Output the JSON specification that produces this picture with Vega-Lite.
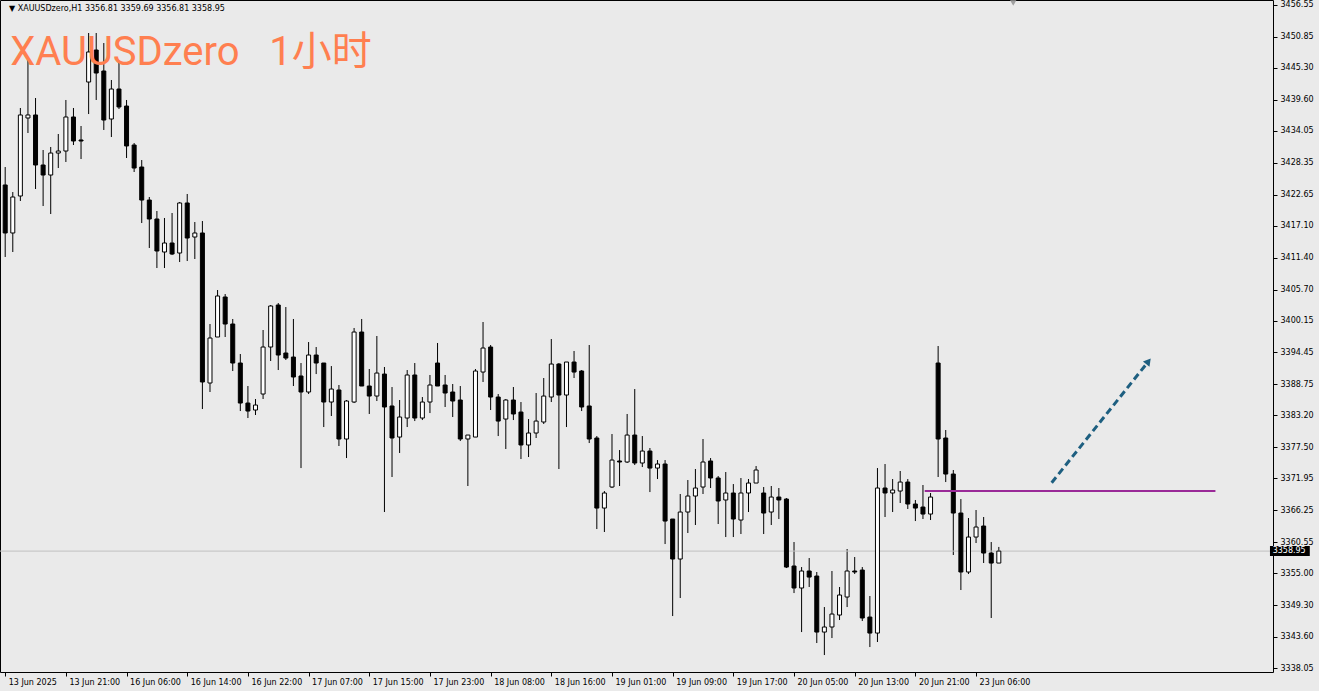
{
 "$schema": "https://vega.github.io/schema/vega-lite/v6.json",
 "width": 1273,
 "height": 672,
 "autosize": {"type": "none"},
 "padding": {"left": 0, "top": 0, "right": 46, "bottom": 19},
 "background": "#eaeaea",
 "config": {
  "view": {"stroke": "#000000", "strokeWidth": 1},
  "axis": {"grid": false, "title": null, "domain": false, "labelOverlap": false, "labelBound": false, "labelFlush": false,
    "labelFont": "DejaVu Sans", "labelFontSize": 8, "labelColor": "#000000", "tickColor": "#000000", "tickSize": 4},
  "axisX": {"labelAlign": "left", "labelBaseline": "top", "labelOffset": 3, "labelPadding": 2, "tickCount": 40},
  "axisY": {"labelAlign": "left", "labelBaseline": "middle", "labelPadding": 3, "tickCount": 40}
 },
 "datasets": {
  "candles": [
   {"i":0,"o":3424.38,"h":3427.59,"l":3411.51,"c":3415.80},
   {"i":1,"o":3415.80,"h":3423.12,"l":3412.40,"c":3422.23},
   {"i":2,"o":3422.41,"h":3438.14,"l":3421.52,"c":3436.89},
   {"i":3,"o":3436.35,"h":3446.72,"l":3433.67,"c":3436.89},
   {"i":4,"o":3436.89,"h":3439.92,"l":3423.66,"c":3427.95},
   {"i":5,"o":3427.95,"h":3430.63,"l":3420.62,"c":3426.16},
   {"i":6,"o":3426.16,"h":3431.17,"l":3419.19,"c":3430.09},
   {"i":7,"o":3430.09,"h":3433.49,"l":3427.41,"c":3430.45},
   {"i":8,"o":3430.45,"h":3439.57,"l":3428.49,"c":3436.53},
   {"i":9,"o":3436.53,"h":3438.14,"l":3431.52,"c":3432.24},
   {"i":10,"o":3432.42,"h":3434.92,"l":3429.02,"c":3432.24},
   {"i":11,"o":3442.78,"h":3451.54,"l":3437.06,"c":3448.15},
   {"i":12,"o":3448.50,"h":3451.54,"l":3439.57,"c":3444.39},
   {"i":13,"o":3444.75,"h":3449.75,"l":3434.21,"c":3435.99},
   {"i":14,"o":3436.17,"h":3443.14,"l":3432.95,"c":3441.53},
   {"i":15,"o":3441.53,"h":3446.36,"l":3437.96,"c":3438.32},
   {"i":16,"o":3438.49,"h":3439.57,"l":3429.20,"c":3431.35},
   {"i":17,"o":3431.52,"h":3431.88,"l":3426.70,"c":3427.41},
   {"i":18,"o":3427.59,"h":3428.84,"l":3417.58,"c":3421.69},
   {"i":19,"o":3421.69,"h":3422.23,"l":3413.12,"c":3418.30},
   {"i":20,"o":3418.30,"h":3419.73,"l":3409.54,"c":3412.58},
   {"i":21,"o":3412.40,"h":3418.48,"l":3409.54,"c":3414.01},
   {"i":22,"o":3414.01,"h":3419.37,"l":3411.86,"c":3412.04},
   {"i":23,"o":3412.22,"h":3421.34,"l":3410.61,"c":3421.16},
   {"i":24,"o":3421.16,"h":3422.77,"l":3410.79,"c":3414.90},
   {"i":25,"o":3415.08,"h":3417.76,"l":3411.15,"c":3415.80},
   {"i":26,"o":3415.80,"h":3417.94,"l":3384.34,"c":3389.17},
   {"i":27,"o":3388.99,"h":3399.53,"l":3387.38,"c":3397.03},
   {"i":28,"o":3397.21,"h":3405.61,"l":3397.21,"c":3404.54},
   {"i":29,"o":3404.36,"h":3404.89,"l":3397.21,"c":3399.53},
   {"i":30,"o":3399.53,"h":3400.43,"l":3391.13,"c":3392.56},
   {"i":31,"o":3392.56,"h":3394.17,"l":3383.98,"c":3385.41},
   {"i":32,"o":3385.41,"h":3388.45,"l":3382.73,"c":3383.98},
   {"i":33,"o":3384.16,"h":3386.13,"l":3383.27,"c":3385.05},
   {"i":34,"o":3387.02,"h":3398.46,"l":3386.13,"c":3395.42},
   {"i":35,"o":3395.42,"h":3402.93,"l":3392.92,"c":3402.75},
   {"i":36,"o":3402.93,"h":3403.28,"l":3391.31,"c":3393.99},
   {"i":37,"o":3394.35,"h":3402.57,"l":3393.10,"c":3393.45},
   {"i":38,"o":3393.63,"h":3400.43,"l":3388.45,"c":3390.06},
   {"i":39,"o":3390.24,"h":3392.56,"l":3373.79,"c":3387.38},
   {"i":40,"o":3387.38,"h":3396.31,"l":3387.02,"c":3393.99},
   {"i":41,"o":3393.99,"h":3395.42,"l":3390.59,"c":3392.56},
   {"i":42,"o":3392.56,"h":3392.56,"l":3381.12,"c":3385.59},
   {"i":43,"o":3385.59,"h":3392.02,"l":3383.09,"c":3387.91},
   {"i":44,"o":3387.74,"h":3388.63,"l":3377.73,"c":3378.98},
   {"i":45,"o":3378.98,"h":3385.95,"l":3375.58,"c":3385.77},
   {"i":46,"o":3385.59,"h":3398.82,"l":3385.41,"c":3398.10},
   {"i":47,"o":3398.10,"h":3400.43,"l":3388.45,"c":3388.45},
   {"i":48,"o":3388.45,"h":3391.49,"l":3383.45,"c":3386.66},
   {"i":49,"o":3386.66,"h":3397.39,"l":3385.77,"c":3390.77},
   {"i":50,"o":3390.59,"h":3391.85,"l":3365.93,"c":3384.70},
   {"i":51,"o":3384.88,"h":3388.27,"l":3372.19,"c":3379.16},
   {"i":52,"o":3379.33,"h":3385.95,"l":3376.48,"c":3382.91},
   {"i":53,"o":3382.73,"h":3391.31,"l":3381.12,"c":3390.42},
   {"i":54,"o":3390.42,"h":3392.56,"l":3382.19,"c":3382.73},
   {"i":55,"o":3382.73,"h":3386.48,"l":3382.37,"c":3385.59},
   {"i":56,"o":3385.59,"h":3390.42,"l":3383.62,"c":3388.63},
   {"i":57,"o":3392.56,"h":3396.14,"l":3388.45,"c":3388.45},
   {"i":58,"o":3388.63,"h":3390.42,"l":3384.70,"c":3387.20},
   {"i":59,"o":3387.38,"h":3388.81,"l":3382.91,"c":3385.77},
   {"i":60,"o":3385.95,"h":3388.45,"l":3378.62,"c":3378.98},
   {"i":61,"o":3378.98,"h":3379.69,"l":3370.58,"c":3379.69},
   {"i":62,"o":3379.33,"h":3391.49,"l":3379.33,"c":3391.13},
   {"i":63,"o":3390.95,"h":3399.89,"l":3389.17,"c":3395.24},
   {"i":64,"o":3395.42,"h":3395.78,"l":3384.16,"c":3386.48},
   {"i":65,"o":3386.48,"h":3387.02,"l":3379.51,"c":3382.19},
   {"i":66,"o":3382.55,"h":3386.13,"l":3377.19,"c":3385.95},
   {"i":67,"o":3385.95,"h":3388.27,"l":3382.37,"c":3383.45},
   {"i":68,"o":3383.80,"h":3385.59,"l":3375.40,"c":3377.91},
   {"i":69,"o":3377.91,"h":3382.55,"l":3375.76,"c":3380.05},
   {"i":70,"o":3380.05,"h":3387.20,"l":3379.16,"c":3382.19},
   {"i":71,"o":3382.02,"h":3389.88,"l":3381.66,"c":3386.66},
   {"i":72,"o":3386.48,"h":3396.85,"l":3385.59,"c":3392.38},
   {"i":73,"o":3392.38,"h":3392.56,"l":3373.62,"c":3386.84},
   {"i":74,"o":3386.84,"h":3392.74,"l":3381.12,"c":3392.74},
   {"i":75,"o":3392.74,"h":3394.71,"l":3389.88,"c":3390.95},
   {"i":76,"o":3391.13,"h":3391.31,"l":3383.98,"c":3384.70},
   {"i":77,"o":3384.88,"h":3395.78,"l":3378.26,"c":3378.98},
   {"i":78,"o":3379.16,"h":3379.51,"l":3362.89,"c":3366.64},
   {"i":79,"o":3366.64,"h":3369.68,"l":3362.36,"c":3369.33},
   {"i":80,"o":3370.40,"h":3379.87,"l":3370.22,"c":3375.22},
   {"i":81,"o":3375.05,"h":3377.01,"l":3370.58,"c":3374.87},
   {"i":82,"o":3374.87,"h":3383.45,"l":3374.69,"c":3379.69},
   {"i":83,"o":3379.69,"h":3387.91,"l":3374.33,"c":3374.69},
   {"i":84,"o":3374.69,"h":3379.51,"l":3373.97,"c":3376.83},
   {"i":85,"o":3376.83,"h":3377.37,"l":3369.50,"c":3373.79},
   {"i":86,"o":3373.79,"h":3375.22,"l":3371.83,"c":3374.51},
   {"i":87,"o":3374.51,"h":3375.22,"l":3360.21,"c":3364.32},
   {"i":88,"o":3364.68,"h":3364.68,"l":3347.34,"c":3357.53},
   {"i":89,"o":3357.53,"h":3369.15,"l":3350.56,"c":3365.93},
   {"i":90,"o":3365.93,"h":3371.65,"l":3362.18,"c":3368.79},
   {"i":91,"o":3368.79,"h":3373.62,"l":3363.61,"c":3370.22},
   {"i":92,"o":3370.40,"h":3378.98,"l":3369.15,"c":3374.87},
   {"i":93,"o":3375.05,"h":3375.58,"l":3370.22,"c":3372.01},
   {"i":94,"o":3372.01,"h":3372.36,"l":3363.79,"c":3367.90},
   {"i":95,"o":3368.08,"h":3373.08,"l":3361.46,"c":3369.33},
   {"i":96,"o":3369.33,"h":3370.93,"l":3361.46,"c":3364.68},
   {"i":97,"o":3364.50,"h":3372.01,"l":3362.00,"c":3369.33},
   {"i":98,"o":3369.33,"h":3371.83,"l":3365.93,"c":3371.11},
   {"i":99,"o":3371.11,"h":3374.15,"l":3371.11,"c":3373.44},
   {"i":100,"o":3369.33,"h":3370.40,"l":3362.00,"c":3365.75},
   {"i":101,"o":3365.93,"h":3370.58,"l":3363.61,"c":3368.61},
   {"i":102,"o":3368.61,"h":3370.22,"l":3364.68,"c":3368.08},
   {"i":103,"o":3368.25,"h":3368.43,"l":3355.92,"c":3356.10},
   {"i":104,"o":3356.28,"h":3360.57,"l":3351.45,"c":3352.35},
   {"i":105,"o":3352.35,"h":3356.10,"l":3344.48,"c":3355.39},
   {"i":106,"o":3355.39,"h":3357.71,"l":3352.53,"c":3354.31},
   {"i":107,"o":3354.49,"h":3355.21,"l":3342.52,"c":3344.48},
   {"i":108,"o":3344.48,"h":3348.95,"l":3340.37,"c":3345.38},
   {"i":109,"o":3345.38,"h":3355.39,"l":3343.41,"c":3347.70},
   {"i":110,"o":3347.52,"h":3352.53,"l":3346.63,"c":3351.10},
   {"i":111,"o":3350.74,"h":3359.32,"l":3348.95,"c":3355.39},
   {"i":112,"o":3355.39,"h":3357.89,"l":3354.85,"c":3355.21},
   {"i":113,"o":3355.56,"h":3356.10,"l":3346.45,"c":3346.99},
   {"i":114,"o":3347.16,"h":3350.92,"l":3341.80,"c":3344.30},
   {"i":115,"o":3344.30,"h":3373.79,"l":3342.70,"c":3370.22},
   {"i":116,"o":3370.22,"h":3374.51,"l":3365.04,"c":3369.33},
   {"i":117,"o":3369.33,"h":3371.83,"l":3365.93,"c":3369.86},
   {"i":118,"o":3369.68,"h":3373.26,"l":3367.54,"c":3371.29},
   {"i":119,"o":3371.29,"h":3371.83,"l":3366.47,"c":3367.36},
   {"i":120,"o":3367.36,"h":3368.08,"l":3364.32,"c":3366.64},
   {"i":121,"o":3366.82,"h":3370.76,"l":3364.68,"c":3365.57},
   {"i":122,"o":3365.57,"h":3369.33,"l":3364.50,"c":3368.61},
   {"i":123,"o":3392.56,"h":3395.60,"l":3372.19,"c":3378.98},
   {"i":124,"o":3379.16,"h":3380.59,"l":3371.29,"c":3372.72},
   {"i":125,"o":3372.72,"h":3373.44,"l":3358.25,"c":3365.75},
   {"i":126,"o":3365.75,"h":3368.25,"l":3351.99,"c":3355.21},
   {"i":127,"o":3355.21,"h":3364.86,"l":3354.85,"c":3361.46},
   {"i":128,"o":3361.46,"h":3366.29,"l":3360.39,"c":3363.25},
   {"i":129,"o":3363.43,"h":3365.04,"l":3356.82,"c":3358.60},
   {"i":130,"o":3358.60,"h":3360.57,"l":3346.99,"c":3356.81},
   {"i":131,"o":3356.81,"h":3359.69,"l":3356.81,"c":3358.95}
  ],
  "bid": [{"p": 3358.95}],
  "level": [{"i1": 121.23, "i2": 159.56, "p": 3369.68}],
  "arrow": [{"i": 137.97, "p": 3371.17}, {"i": 150.4, "p": 3392.29}],
  "arrowhead": [{"i": 150.73, "p": 3392.85}]
 },
 "layer": [
  {
   "data": {"name": "candles"},
   "mark": {"type": "rule", "color": "#000000", "strokeWidth": 1, "clip": true},
   "encoding": {
    "x": {"field": "i", "type": "quantitative", "scale": {"domain": [-0.026, 166.49], "nice": false, "zero": false},
      "axis": {"values": [0,8,16,24,32,40,48,56,64,72,80,88,96,104,112,120,128], "tickCount": 40,
        "labelExpr": "['13 Jun 2025','13 Jun 21:00','16 Jun 06:00','16 Jun 14:00','16 Jun 22:00','17 Jun 07:00','17 Jun 15:00','17 Jun 23:00','18 Jun 08:00','18 Jun 16:00','19 Jun 01:00','19 Jun 09:00','19 Jun 17:00','20 Jun 05:00','20 Jun 13:00','20 Jun 21:00','23 Jun 06:00'][round(datum.value/8)]",
        "labelAlign": "left", "labelBaseline": "top", "labelOffset": 3, "labelPadding": 2, "labelOverlap": false}},
    "y": {"field": "l", "type": "quantitative", "scale": {"domain": [3337.34, 3457.44], "nice": false, "zero": false},
      "axis": {"orient": "right", "values": [3456.55,3450.85,3445.30,3439.60,3434.05,3428.35,3422.65,3417.10,3411.40,3405.70,3400.15,3394.45,3388.75,3383.20,3377.50,3371.95,3366.25,3360.55,3355.00,3349.30,3343.60,3338.05], "tickCount": 40,
        "format": ".2f", "labelAlign": "left", "labelBaseline": "middle", "labelPadding": 3, "labelOverlap": false}},
    "y2": {"field": "h"}
   }
  },
  {
   "data": {"name": "bid"},
   "mark": {"type": "rule", "color": "#c0c0c0", "strokeWidth": 1},
   "encoding": {
    "y": {"field": "p", "type": "quantitative", "scale": {"domain": [3337.34, 3457.44], "nice": false, "zero": false}}
   }
  },
  {
   "data": {"name": "candles"},
   "mark": {"type": "bar", "width": 4, "stroke": "#000000", "strokeWidth": 1, "clip": true},
   "encoding": {
    "x": {"field": "i", "type": "quantitative", "scale": {"domain": [-0.026, 166.49], "nice": false, "zero": false}},
    "y": {"field": "o", "type": "quantitative", "scale": {"domain": [3337.34, 3457.44], "nice": false, "zero": false}},
    "y2": {"field": "c"},
    "fill": {"condition": {"test": "datum.c >= datum.o", "value": "#ffffff"}, "value": "#000000"}
   }
  },
  {
   "data": {"name": "level"},
   "mark": {"type": "rule", "color": "#9a2a98", "strokeWidth": 2},
   "encoding": {
    "x": {"field": "i1", "type": "quantitative", "scale": {"domain": [-0.026, 166.49], "nice": false, "zero": false}},
    "x2": {"field": "i2"},
    "y": {"field": "p", "type": "quantitative", "scale": {"domain": [3337.34, 3457.44], "nice": false, "zero": false}}
   }
  },
  {
   "data": {"name": "arrow"},
   "mark": {"type": "line", "color": "#1e5f80", "strokeWidth": 3, "strokeDash": [7, 4]},
   "encoding": {
    "x": {"field": "i", "type": "quantitative", "scale": {"domain": [-0.026, 166.49], "nice": false, "zero": false}},
    "y": {"field": "p", "type": "quantitative", "scale": {"domain": [3337.34, 3457.44], "nice": false, "zero": false}}
   }
  },
  {
   "data": {"name": "arrowhead"},
   "mark": {"type": "point", "shape": "triangle-up", "filled": true, "color": "#1e5f80", "size": 70, "angle": 38.8, "opacity": 1},
   "encoding": {
    "x": {"field": "i", "type": "quantitative", "scale": {"domain": [-0.026, 166.49], "nice": false, "zero": false}},
    "y": {"field": "p", "type": "quantitative", "scale": {"domain": [3337.34, 3457.44], "nice": false, "zero": false}}
   }
  },
  {
   "data": {"values": [{"i": 132.9, "p": 3456.9}]},
   "mark": {"type": "point", "shape": "triangle-down", "filled": true, "color": "#a0a0a0", "size": 40, "opacity": 1},
   "encoding": {
    "x": {"field": "i", "type": "quantitative", "scale": {"domain": [-0.026, 166.49], "nice": false, "zero": false}},
    "y": {"field": "p", "type": "quantitative", "scale": {"domain": [3337.34, 3457.44], "nice": false, "zero": false}}
   }
  },
  {
   "data": {"values": [{"i": 0.5, "p": 3455.83, "label": "▼ XAUUSDzero,H1  3356.81 3359.69 3356.81 3358.95"}]},
   "mark": {"type": "text", "align": "left", "baseline": "middle", "font": "DejaVu Sans", "fontSize": 8, "color": "#000000"},
   "encoding": {
    "x": {"field": "i", "type": "quantitative", "scale": {"domain": [-0.026, 166.49], "nice": false, "zero": false}},
    "y": {"field": "p", "type": "quantitative", "scale": {"domain": [3337.34, 3457.44], "nice": false, "zero": false}},
    "text": {"field": "label"}
   }
  },
  {
   "data": {"values": [{"i": 0.65, "p": 3445.82, "label": "XAUUSDzero\u00a0\u00a0\u00a01小时"}]},
   "mark": {"type": "text", "align": "left", "baseline": "alphabetic", "font": "Roboto, Noto Sans CJK SC", "fontSize": 40, "color": "#ff7f50"},
   "encoding": {
    "x": {"field": "i", "type": "quantitative", "scale": {"domain": [-0.026, 166.49], "nice": false, "zero": false}},
    "y": {"field": "p", "type": "quantitative", "scale": {"domain": [3337.34, 3457.44], "nice": false, "zero": false}},
    "text": {"field": "label"}
   }
  },
  {
   "data": {"values": [{"a": 166.75, "b": 172.0, "lo": 3358.07, "hi": 3359.85}]},
   "mark": {"type": "rect", "color": "#000000"},
   "encoding": {
    "x": {"field": "a", "type": "quantitative", "scale": {"domain": [-0.026, 166.49], "nice": false, "zero": false}},
    "x2": {"field": "b"},
    "y": {"field": "lo", "type": "quantitative", "scale": {"domain": [3337.34, 3457.44], "nice": false, "zero": false}},
    "y2": {"field": "hi"}
   }
  },
  {
   "data": {"values": [{"i": 167.1, "p": 3358.95, "label": "3358.95"}]},
   "mark": {"type": "text", "align": "left", "baseline": "middle", "font": "DejaVu Sans", "fontSize": 8, "color": "#ffffff"},
   "encoding": {
    "x": {"field": "i", "type": "quantitative", "scale": {"domain": [-0.026, 166.49], "nice": false, "zero": false}},
    "y": {"field": "p", "type": "quantitative", "scale": {"domain": [3337.34, 3457.44], "nice": false, "zero": false}},
    "text": {"field": "label"}
   }
  }
 ]
}
